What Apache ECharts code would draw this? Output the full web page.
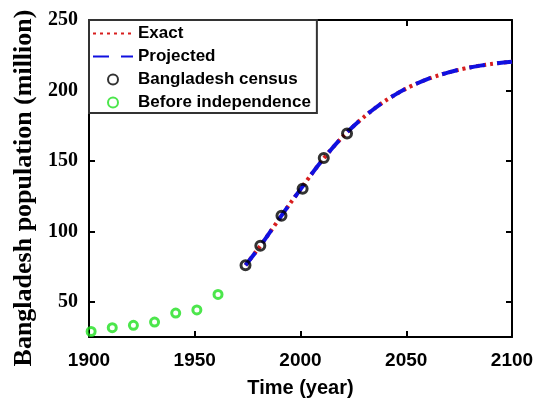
<!DOCTYPE html>
<html>
<head>
<meta charset="utf-8">
<script src="https://cdn.jsdelivr.net/npm/echarts@6/dist/echarts.min.js"></script>
<style>html,body{margin:0;padding:0;background:#fff;}#c{width:534px;height:400px;}</style>
</head>
<body>
<div id="c"></div>
<script>
// Data
var censusYears = [1974, 1981, 1991, 2001, 2011, 2022];
var censusPop = [76.0, 89.8, 111.0, 130.2, 152.0, 169.5];
var beforeYears = [1901, 1911, 1921, 1931, 1941, 1951, 1961];
var beforePop = [28.9, 31.6, 33.3, 35.6, 42.0, 44.2, 55.2];
var curveYears = [1974, 1980, 1985, 1990, 1995, 2000, 2005, 2010, 2015, 2020, 2025, 2030, 2035, 2040, 2045, 2050, 2055, 2060, 2065, 2070, 2075, 2080, 2085, 2090, 2095, 2100];
var exactPop = [76.0, 87.6, 98.2, 109.0, 119.6, 129.8, 140.2, 150.0, 159.0, 167.2, 174.6, 181.2, 187.2, 192.6, 197.2, 201.4, 204.9, 208.0, 210.6, 212.8, 214.7, 216.3, 217.6, 218.7, 219.6, 220.4];
var projectedPop = [76.0, 87.6, 98.2, 109.0, 119.6, 129.8, 140.2, 150.0, 159.0, 167.2, 174.6, 181.2, 187.2, 192.6, 197.2, 201.4, 204.9, 208.0, 210.6, 212.8, 214.7, 216.3, 217.6, 218.7, 219.6, 220.4];
var xTicks = [1900, 1950, 2000, 2050, 2100];
var yTicks = [50, 100, 150, 200, 250];

function pairs(xs, ys) { return xs.map(function (x, i) { return [x, ys[i]]; }); }

var chart = echarts.init(document.getElementById('c'), null, {renderer: 'canvas'});
var axisLine = {show: true, onZero: false, lineStyle: {color: '#000', width: 2}};
var tick = {show: true, inside: true, length: 6, lineStyle: {color: '#000', width: 2}};
var option = {
  animation: false,
  backgroundColor: '#fff',
  grid: {left: 89, right: 22, top: 20, bottom: 63, containLabel: false, outerBoundsMode: 'none'},
  xAxis: [{
    type: 'value', min: 1900, max: 2100, interval: 50, position: 'bottom',
    axisLine: axisLine, axisTick: tick, splitLine: {show: false},
    axisLabel: {margin: 14, color: '#000', fontFamily: 'Liberation Sans', fontWeight: 'bold', fontSize: 19,
      customValues: xTicks, formatter: function (v) { return String(v); }},
    name: 'Time (year)', nameLocation: 'middle', nameGap: 41,
    nameTextStyle: {color: '#000', fontFamily: 'Liberation Sans', fontWeight: 'bold', fontSize: 20}
  }, {
    type: 'value', min: 1900, max: 2100, interval: 50, position: 'top',
    axisLine: axisLine, axisTick: tick, splitLine: {show: false}, axisLabel: {show: false}
  }],
  yAxis: [{
    type: 'value', min: 25, max: 250, position: 'left',
    axisLine: axisLine, splitLine: {show: false},
    axisTick: {show: true, inside: true, length: 6, lineStyle: {color: '#000', width: 2}, customValues: yTicks},
    axisLabel: {margin: 11, color: '#000', fontFamily: 'Liberation Serif', fontWeight: 'bold', fontSize: 20, customValues: yTicks}
  }, {
    type: 'value', min: 25, max: 250, position: 'right',
    axisLine: axisLine, splitLine: {show: false},
    axisTick: {show: true, inside: true, length: 6, lineStyle: {color: '#000', width: 2}, customValues: yTicks},
    axisLabel: {show: false}
  }],
  legend: {
    orient: 'vertical', left: 89, top: 20,
    padding: [5, 6, 2, 3], itemGap: 6, itemWidth: 40, itemHeight: 10,
    backgroundColor: '#fff', borderColor: '#333', borderWidth: 2,
    textStyle: {color: '#000', fontFamily: 'Liberation Sans', fontWeight: 'bold', fontSize: 17, lineHeight: 17},
    data: [
      {name: 'Exact', itemStyle: {opacity: 0}},
      {name: 'Projected', itemStyle: {opacity: 0}},
      'Bangladesh census', 'Before independence'
    ],
    z: 10
  },
  graphic: [{
    type: 'text', x: 24, y: 188, rotation: Math.PI / 2,
    style: {text: 'Bangladesh population (million)', font: 'bold 26px "Liberation Serif"', fill: '#000', align: 'center', verticalAlign: 'middle'}
  }],
  series: [{
    name: 'Exact', type: 'line', data: pairs(curveYears, exactPop), smooth: 0.3,
    symbol: 'none', lineStyle: {color: '#d81e1e', width: 4, type: [3, 4]}, z: 2
  }, {
    name: 'Projected', type: 'line', data: pairs(curveYears, projectedPop), smooth: 0.3,
    symbol: 'none', lineStyle: {color: '#1010e0', width: 4, type: [16, 12]}, z: 3
  }, {
    name: 'Bangladesh census', type: 'scatter', data: pairs(censusYears, censusPop),
    symbol: 'circle', symbolSize: 9,
    itemStyle: {color: 'rgba(255,255,255,0)', borderColor: '#000', borderWidth: 3}, z: 4
  }, {
    name: 'Before independence', type: 'scatter', data: pairs(beforeYears, beforePop),
    symbol: 'circle', symbolSize: 8,
    itemStyle: {color: 'rgba(255,255,255,0)', borderColor: '#1fe01f', borderWidth: 3}, z: 4
  }]
};
chart.setOption(option);
</script>
</body>
</html>
